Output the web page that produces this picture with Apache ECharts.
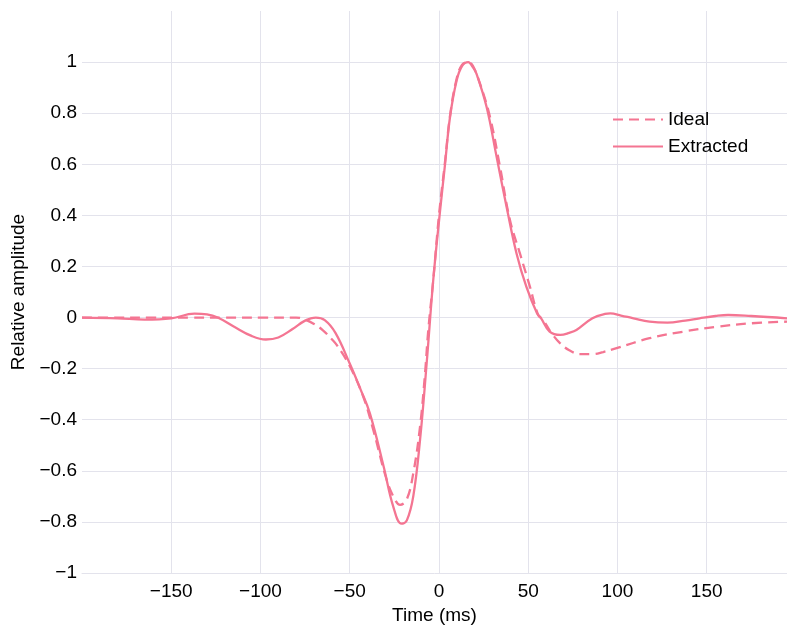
<!DOCTYPE html>
<html>
<head>
<meta charset="utf-8">
<script src="https://cdn.jsdelivr.net/npm/echarts@6/dist/echarts.min.js"></script>
<style>
html,body{margin:0;padding:0;background:#fff;}
#chart{width:787px;height:626px;}
</style>
</head>
<body>
<div id="chart"></div>
<script>
// Extracted wavelet (solid)
const extractedTime = [-200,-180,-165,-150,-137,-130,-124,-115,-105,-97,-90,-82,-75,-69,-64,-58,-50,-44,-38.7,-31,-25.6,-21,-18,-14.4,-10.6,-6.9,-3.2,0.5,3.4,6.2,9.9,13,16.4,19,21,26.7,32.3,37.9,43.5,49,55,57,62,68,73,77,86,93,96,102,109,118,128,138,146,155,162,175,195];
const extractedAmp = [0,-0.003,-0.008,-0.003,0.015,0.012,0.0,-0.035,-0.072,-0.086,-0.078,-0.045,-0.012,0.0,-0.01,-0.06,-0.18,-0.28,-0.375,-0.583,-0.74,-0.807,-0.794,-0.70,-0.479,-0.18,0.147,0.41,0.60,0.785,0.928,0.985,1.0,0.98,0.955,0.824,0.629,0.433,0.25,0.12,0.016,0.0,-0.055,-0.068,-0.06,-0.049,-0.003,0.014,0.016,0.008,-0.003,-0.016,-0.02,-0.012,-0.003,0.006,0.01,0.006,-0.003];
// Ideal wavelet (dashed)
const idealTime = [-200,-180,-160,-140,-120,-100,-80,-75,-70,-65,-60,-57,-50,-42.4,-36.8,-29.3,-24.6,-21.8,-18.1,-14.4,-10.6,-7.8,-6,-3.2,0,3.4,6.2,9.9,13,16.4,19,23,28.6,34.2,39.8,45.4,51,55.6,58.4,63,67.8,73,79,86,92,99.5,118,137,155.6,174,195];
const idealAmp = [0,0,0,0,0,0,0,-0.008,-0.025,-0.05,-0.085,-0.11,-0.19,-0.31,-0.44,-0.635,-0.713,-0.733,-0.713,-0.61,-0.427,-0.218,-0.05,0.147,0.40,0.61,0.79,0.935,0.99,1.0,0.985,0.916,0.785,0.59,0.381,0.25,0.12,0.01,-0.01,-0.06,-0.1,-0.128,-0.143,-0.143,-0.135,-0.12,-0.081,-0.055,-0.036,-0.023,-0.016];
const seriesNames = ['Ideal','Extracted'];

const color = '#f47592';
const gridColor = '#e3e3ec';
const font = '"Liberation Sans", Arial, Helvetica, sans-serif';
const fs = 19;
const minus = v => String(v).replace('-', '\u2212');

const chart = echarts.init(document.getElementById('chart'));
chart.setOption({
  animation: false,
  backgroundColor: '#fff',
  grid: {left: 82, right: 0, top: 11, bottom: 53, containLabel: false, outerBoundsMode: 'none'},
  legend: {
    orient: 'vertical', left: 607, top: 105,
    itemWidth: 50, itemHeight: 18, itemGap: 8,
    data: seriesNames,
    itemStyle: {opacity: 0},
    textStyle: {fontFamily: font, fontSize: fs, color: '#000'}
  },
  xAxis: {
    type: 'value', min: -200, max: 195, interval: 50,
    name: 'Time (ms)', nameLocation: 'middle', nameGap: 27,
    nameTextStyle: {fontFamily: font, fontSize: fs, color: '#000'},
    axisLine: {show: true, onZero: false, lineStyle: {color: gridColor, width: 1}},
    axisTick: {show: false},
    axisLabel: {showMinLabel: false, showMaxLabel: false, margin: 9, fontFamily: font, fontSize: fs, color: '#000', formatter: minus},
    splitLine: {show: true, showMinLine: false, showMaxLine: false, lineStyle: {color: gridColor, width: 1}}
  },
  yAxis: {
    type: 'value', min: -1, max: 1.2, interval: 0.2,
    name: 'Relative amplitude', nameLocation: 'middle', nameGap: 50,
    nameTextStyle: {fontFamily: font, fontSize: fs, color: '#000'},
    axisLine: {show: true, lineStyle: {color: gridColor, width: 1}},
    axisTick: {show: false},
    axisLabel: {showMaxLabel: false, margin: 5, fontFamily: font, fontSize: fs, color: '#000', formatter: minus},
    splitLine: {show: true, showMinLine: false, showMaxLine: false, lineStyle: {color: gridColor, width: 1}}
  },
  series: [
    {
      name: seriesNames[0], type: 'line', symbol: 'none', smooth: 0.4,
      data: idealTime.map((t, i) => [t, idealAmp[i]]),
      lineStyle: {color: color, width: 2.3, type: [10, 6]},
      itemStyle: {color: color}
    },
    {
      name: seriesNames[1], type: 'line', symbol: 'none', smooth: 0.4,
      data: extractedTime.map((t, i) => [t, extractedAmp[i]]),
      lineStyle: {color: color, width: 2.3},
      itemStyle: {color: color}
    }
  ]
});
</script>
</body>
</html>
